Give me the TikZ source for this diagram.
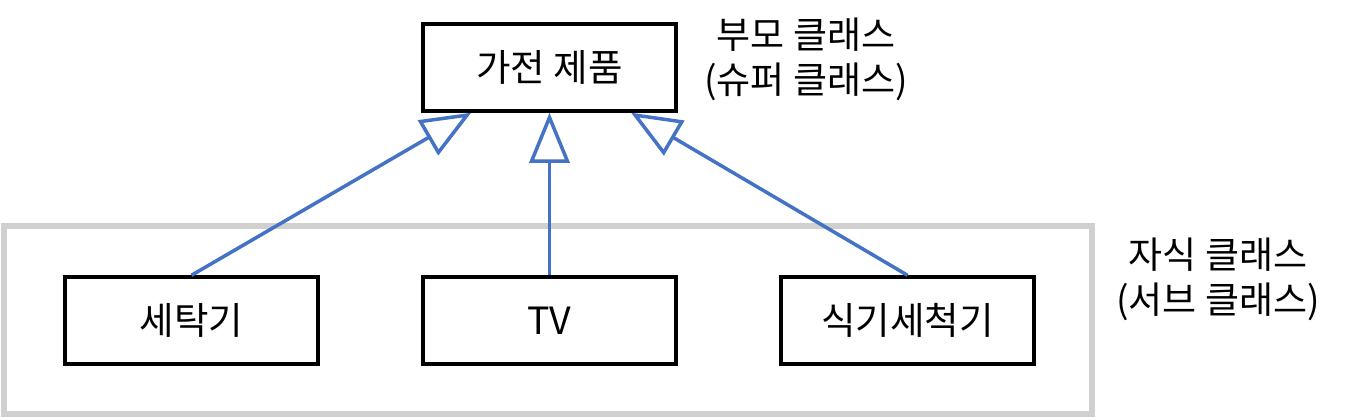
\documentclass[tikz,border=0pt]{standalone}
\usepackage{fontspec}
\setmainfont{Noto Sans CJK KR}
\usetikzlibrary{positioning,arrows.meta}
\definecolor{umlblue}{HTML}{4472C4}
\definecolor{framegray}{HTML}{D0D0D0}

\begin{document}
\begin{tikzpicture}[x=1pt,y=-1pt,node distance=253pt,on grid,
  cls/.style={draw,line width=3.5pt,minimum width=253pt,minimum height=87pt,
    inner sep=0pt,font=\fontsize{37.5}{44}\selectfont},
  inherit/.style={draw=umlblue,line width=3.5pt,
    -{Triangle[open,fill=white,length=50pt,width=40pt]}},
  note/.style={align=center,font=\fontsize{37}{45}\selectfont}]

   \useasboundingbox (0,0) rectangle (1349,420);
   \draw[framegray,line width=6pt] (4,226) rectangle (1092,414);

   \node[cls] (parent) at (549.5,67.5) {가전 제품};
   \node[cls] (tv) [below=of parent] {TV};
   \node[cls] (washer) [left=358pt of tv] {세탁기};
   \node[cls] (dish) [right=358pt of tv] {식기세척기};

   \node[note] (super) at (806,59) {부모 클래스\\(슈퍼 클래스)};
   \node[note] (sub) at (1218,279) {자식 클래스\\(서브 클래스)};

    \path
    (washer.north) edge[inherit] (parent.-150)
    (tv.north) edge[inherit] (parent.south)
    (dish.north) edge[inherit] (parent.-29);

\end{tikzpicture}
\end{document}
